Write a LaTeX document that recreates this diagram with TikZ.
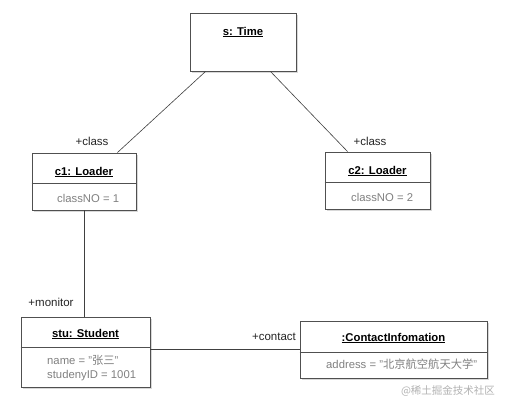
\documentclass[tikz,border=0pt]{standalone}
\usepackage{fontspec}
\setmainfont{Liberation Sans}
\newfontfamily\cjk{Noto Sans CJK SC}
\usetikzlibrary{shadows}
\definecolor{boxline}{HTML}{505050}
\definecolor{attrgray}{HTML}{808080}
\tikzset{
  objbox/.style={draw=boxline, line width=0.9pt, fill=white, inner sep=0pt,
    drop shadow={shadow xshift=2pt, shadow yshift=-2pt, opacity=0.3}},
  title/.style={font=\fontsize{11.3}{13}\selectfont\bfseries, text=black, inner sep=0pt},
  attr/.style={font=\fontsize{11.3}{13}\selectfont, text=attrgray, inner sep=0pt, anchor=west, align=left},
  role/.style={font=\fontsize{11.5}{13}\selectfont, text=black!85, inner sep=0pt},
  conn/.style={draw=black!75, line width=0.6pt},
  divider/.style={draw=boxline, line width=0.9pt}
}
\begin{document}
\begin{tikzpicture}[x=1pt,y=-1pt]
\useasboundingbox[fill=white] (0,0) rectangle (507,409);

% boxes
\node[objbox, minimum width=106pt, minimum height=58pt] (time) at (243,42) {};
\node[objbox, minimum width=104pt, minimum height=57pt] (c1) at (84,181.5) {};
\node[objbox, minimum width=105pt, minimum height=57pt] (c2) at (377.5,180.5) {};
\node[objbox, minimum width=129pt, minimum height=70pt] (stu) at (85.5,352) {};
\node[objbox, minimum width=187pt, minimum height=57pt] (ci) at (393.5,349.5) {};

% dividers
\draw[divider] (c1.west |- 0,183) -- (c1.east |- 0,183);
\draw[divider] (c2.west |- 0,182) -- (c2.east |- 0,182);
\draw[divider] (stu.west |- 0,347) -- (stu.east |- 0,347);
\draw[divider] (ci.west |- 0,352) -- (ci.east |- 0,352);

% titles
\node[title] (ttime) at (243,32) {\underline{s: Time}};
\node[title] (tc1) at (84,172) {\underline{c1: Loader}};
\node[title] (tc2) at (377.5,171) {\underline{c2: Loader}};
\node[title] (tstu) at (85.5,334) {\underline{stu: Student}};
\node[title] (tci) at (393.5,338) {\underline{:ContactInfomation}};

% attributes
\node[attr] (ac1) at (57,198) {classNO = 1};
\node[attr] (ac2) at (351,197) {classNO = 2};
\node[attr] (astu1) at (47,360) {name = "{\cjk 张三}"};
\node[attr] (astu2) at (47,376) {studenyID = 1001};
\node[attr] (aci) at (326,364) {address = "{\cjk 北京航空航天大学}"};

% connectors
\draw[conn] ([xshift=16pt]time.south west) -- ([xshift=-19pt]c1.north east);
\draw[conn] ([xshift=-26pt]time.south east) -- ([xshift=23pt]c2.north west);
\draw[conn] (c1.south) -- (c1.south |- stu.north);
\draw[conn] (stu.east |- ci.west) -- (ci.west);

% role labels
\node[role] (r1) at (92,141) {+class};
\node[role] (r2) at (370,141) {+class};
\node[role] (r3) at (51,302) {+monitor};
\node[role] (r4) at (274,337) {+contact};

% watermark
\node[font=\fontsize{10.5}{12}\selectfont\cjk, text=black!30, inner sep=0pt] (wm) at (448,391) {@稀土掘金技术社区};
\end{tikzpicture}
\end{document}
